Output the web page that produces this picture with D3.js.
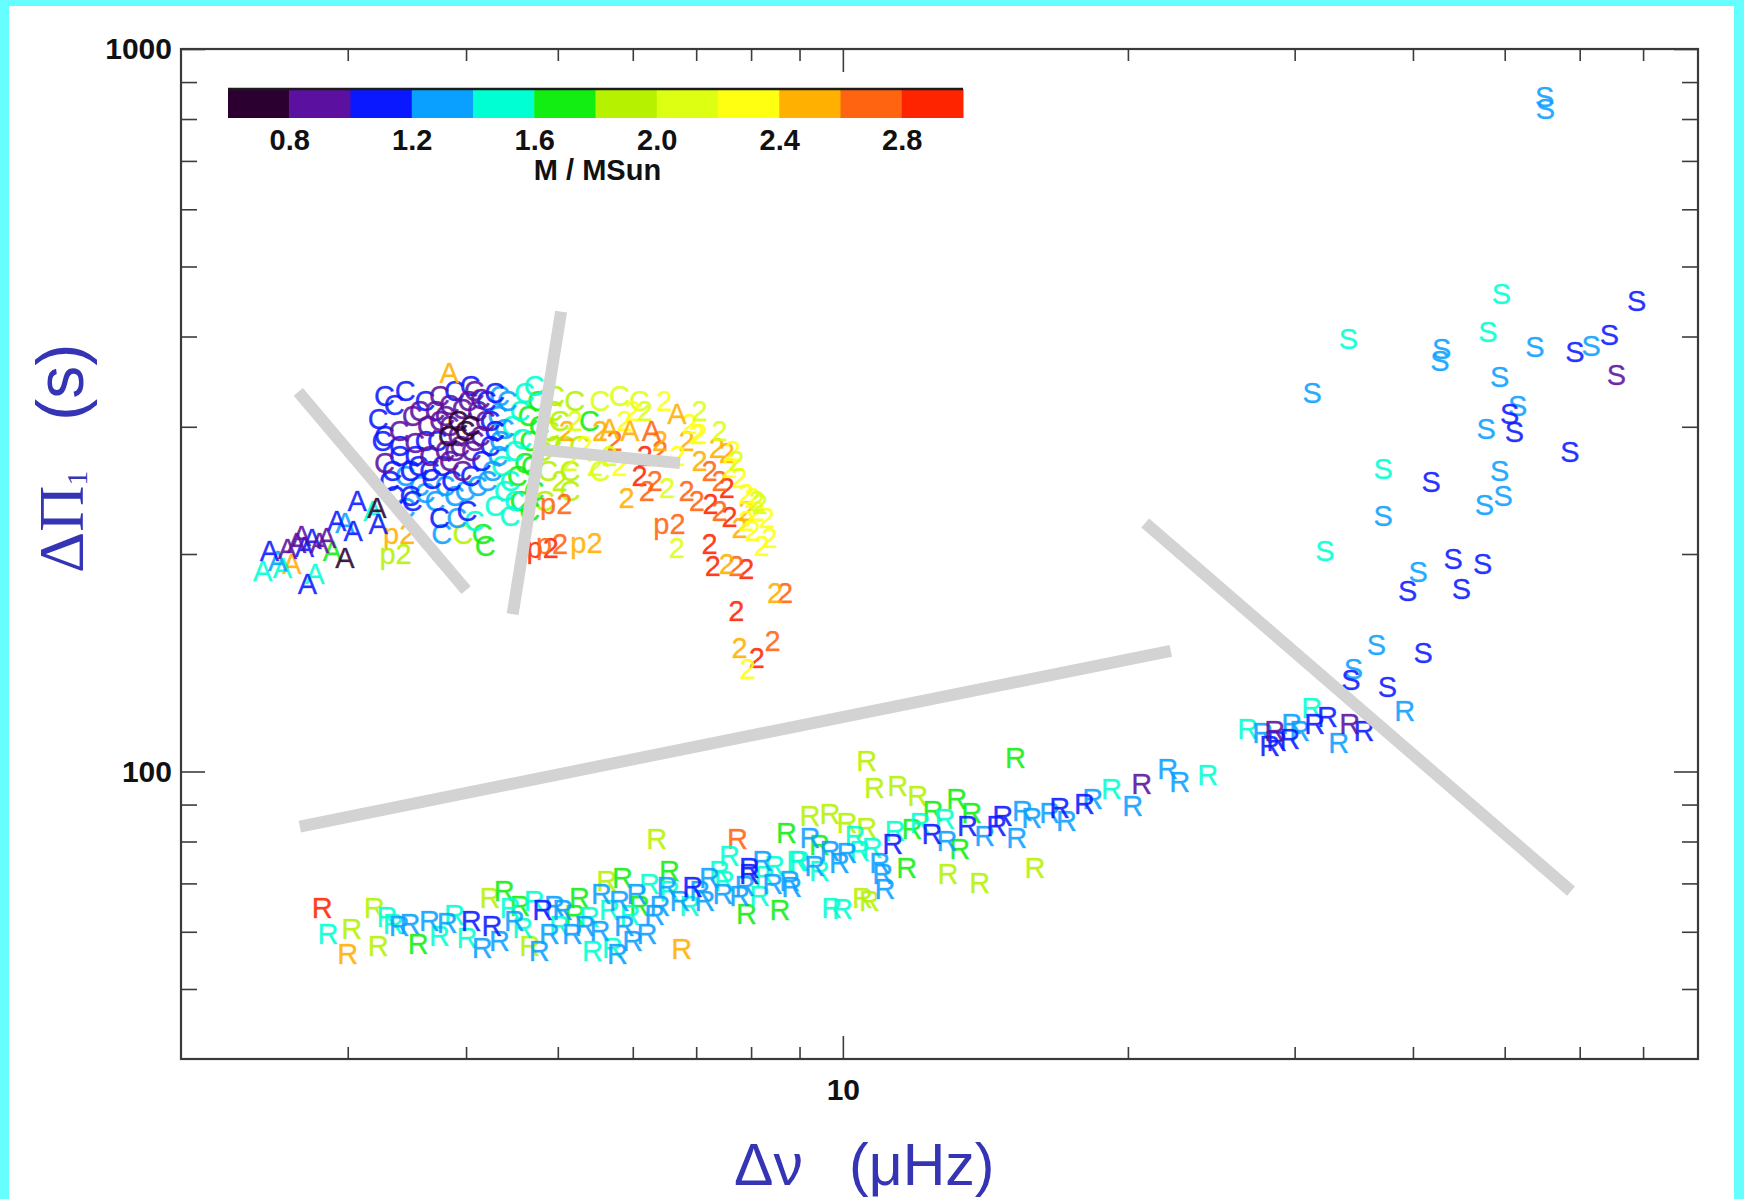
<!DOCTYPE html>
<html>
<head>
<meta charset="utf-8">
<script src="https://cdn.jsdelivr.net/npm/d3@7"></script>
<style>
  html, body { margin: 0; padding: 0; background: #66ffff; }
  svg { display: block; }
</style>
</head>
<body>
<svg id="chart" width="1744" height="1199"></svg>
<script>
// Period spacing ΔΠ1 against large separation Δν; each star drawn as a letter
// coloured by its mass.  Entries are [Δν (μHz), ΔΠ1 (s), M / MSun].

// Mass colour table (12 bins of 0.2 MSun between 0.6 and 3.0)
const massDomain = [0.6, 3.0];
const massBinColors = ["#2b0030", "#5b10a0", "#0a18ff", "#0aa0ff", "#00ffd2", "#12ee12",
                       "#b6f200", "#dcff12", "#ffff12", "#ffb000", "#ff6410", "#ff2400"];
const massTicks = [0.8, 1.2, 1.6, 2.0, 2.4, 2.8];

// Axis ticks
const xMinorTicks = [3, 4, 5, 6, 7, 8, 9, 20, 30, 40, 50, 60, 70];
const xLabelTicks = [10];
const yMinorTicks = [50, 60, 70, 80, 90, 200, 300, 400, 500, 600, 700, 800, 900];
const yLabelTicks = [100, 1000];

// Red-giant-branch stars ("R")
const rStars = [
  [2.82,64.9,2.9],[2.86,59.7,1.5],[3.03,60.7,1.9],[3.00,56.0,2.5],[3.20,64.9,1.9],[3.23,57.5,1.9],[3.30,62.9,1.5],[3.35,61.6,1.5],[3.40,61.2,1.3],[3.49,61.6,1.3],
  [3.56,57.8,1.7],[3.66,62.2,1.3],[3.82,61.8,1.3],[4.05,62.2,1.1],[4.26,61.2,1.1],[4.01,58.9,1.5],[4.16,57.1,1.3],[4.24,67.0,1.9],[4.39,68.5,1.7],[4.45,64.9,1.5],
  [4.59,60.9,1.5],[4.67,57.5,1.9],[4.82,64.3,1.1],[4.78,56.6,1.3],[4.90,59.7,1.3],[5.06,64.3,1.3],[5.18,59.7,1.3],[5.40,62.9,1.5],[5.44,56.6,1.5],[5.71,57.1,1.5],
  [5.78,56.0,1.3],[6.00,58.4,1.3],[6.21,59.7,1.3],[5.27,67.0,1.7],[5.56,67.8,1.3],[5.63,70.7,1.9],[5.85,71.4,1.7],[5.81,66.3,1.3],[6.06,67.8,1.3],[6.25,70.0,1.5],
  [6.36,80.8,1.9],[7.74,80.8,2.7],[8.72,82.4,1.7],[6.52,69.2,1.3],[6.94,69.2,1.1],[6.73,66.3,1.3],[7.23,71.4,1.3],[7.41,73.0,1.5],[7.47,67.8,1.3],[7.97,72.3,1.1],
  [8.23,75.4,1.3],[8.43,70.0,1.3],[7.91,63.6,1.7],[8.58,64.3,1.7],[6.76,56.9,2.5],[5.02,61.2,1.5],[5.54,60.3,1.3],[5.96,63.3,1.5],[6.41,65.3,1.3],[6.89,65.3,1.5],
  [7.06,68.5,1.3],[7.78,67.4,1.3],[8.17,67.4,1.5],[8.79,70.7,1.3],[6.10,65.3,1.7],[5.21,63.3,1.7],[4.56,65.3,1.7],[3.89,63.3,1.5],[3.75,59.3,1.5],[4.34,58.4,1.3],
  [6.56,73.0,1.7],[7.59,76.6,1.5],[8.47,74.2,1.5],[10.6,103.7,1.9],[10.8,95.1,1.9],[11.43,95.6,1.9],[12.0,92.7,1.9],[9.23,87.0,1.9],[9.69,87.5,1.9],[10.1,85.0,1.9],
  [10.6,83.7,1.9],[12.45,88.4,1.7],[13.19,91.8,1.7],[13.68,87.8,1.7],[11.83,83.4,1.7],[11.29,79.6,1.1],[12.42,82.1,1.1],[13.54,84.3,1.1],[14.54,84.3,1.1],[14.75,87.0,1.1],
  [15.48,88.4,1.3],[15.83,86.4,1.3],[15.26,81.1,1.3],[16.94,89.2,1.1],[18.0,90.4,1.1],[17.23,85.6,1.3],[18.36,91.8,1.3],[19.22,94.8,1.5],[20.23,89.8,1.3],[20.68,96.3,0.9],
  [22.03,101.0,1.3],[22.68,96.7,1.3],[24.28,98.9,1.5],[9.23,81.1,1.3],[9.69,77.8,1.3],[10.1,77.3,1.3],[8.94,75.4,1.5],[10.74,78.5,1.5],[10.94,74.7,1.3],[11.02,72.3,1.3],
  [8.83,69.2,1.3],[11.68,73.7,1.7],[12.91,72.3,1.9],[13.95,70.3,1.9],[15.95,73.7,1.9],[9.73,64.9,1.5],[9.99,64.7,1.5],[10.49,67.0,1.9],[10.67,66.3,1.9],[11.08,68.9,1.3],
  [12.88,80.3,1.3],[13.29,78.3,1.7],[15.22,104.7,1.7],[7.97,73.7,1.1],[9.45,79.1,1.7],[10.3,81.6,1.5],[9.34,74.2,1.3],[26.77,114.8,1.5],[27.76,113.2,1.3],[28.58,114.1,0.9],
  [28.72,110.5,1.1],[29.79,116.6,1.3],[29.65,111.2,1.1],[31.27,122.5,1.5],[31.5,116.6,1.1],[32.5,119.2,1.1],[33.4,109.8,1.3],[34.3,116.6,0.9],[35.5,114.1,1.1],[39.2,121.6,1.3],
  [28.24,108.7,1.1],[30.38,114.1,1.3],
  [4.50,62.2,1.3],[4.72,66.3,1.5],[4.96,65.3,1.3],[5.34,61.2,1.3],[5.67,64.3,1.5],[5.88,61.2,1.3],[6.33,63.3,1.3],[6.56,68.5,1.5],[7.15,66.3,1.3],[7.50,70.7,1.5],
  [7.88,69.6,1.3],[8.27,71.8,1.5],[9.00,75.4,1.5],[9.45,73.0,1.5],[9.92,74.9,1.3],[10.42,77.8,1.5],[11.35,82.9,1.5],[12.06,85.0,1.5],[12.82,86.0,1.5],[14.12,81.6,1.3],
  [16.54,87.8,1.3]
];

// Subgiants ("S")
const sStars = [
  [49.6,459,1.5],[68.9,449,1.1],[34.2,397,1.5],[42.9,385,1.3],[42.7,371,1.3],[48.0,406,1.5],[53.8,387,1.3],[59.3,381,1.1],[61.7,389,1.3],[64.5,402,1.1],
  [65.6,354,0.9],[31.3,335,1.3],[49.4,352,1.3],[51.6,321,1.3],[50.6,313,1.1],[51.2,295,1.1],[47.8,298,1.3],[58.6,277,1.1],[37.2,263,1.5],[41.8,252,1.1],
  [49.4,261,1.3],[49.8,241,1.3],[47.6,234,1.3],[37.2,226,1.3],[32.3,202,1.5],[44.1,197,1.1],[47.4,194,1.1],[45.0,179,1.1],[40.5,189,1.3],[39.5,178,1.1],
  [36.6,150,1.3],[41.0,146,1.1],[34.6,139,1.3],[34.4,134,1.1],[37.6,131,1.1],[55.1,858,1.3],[55.2,828,1.3]
];

// Red clump ("C")
const cStars = [
  [3.23,308.4,1.1],[3.26,287.5,1.1],[3.28,268.0,0.9],[3.32,253.1,1.1],[3.36,321.5,1.1],[3.40,296.8,0.9],[3.40,274.1,1.1],[3.45,257.2,1.3],[3.49,241.2,1.1],[3.51,311.4,0.9],
  [3.53,285.7,0.9],[3.56,265.5,1.1],[3.57,249.1,1.3],[3.62,326.6,1.1],[3.64,301.6,0.9],[3.66,274.1,0.9],[3.68,254.7,1.1],[3.71,237.4,1.3],[3.75,331.9,0.9],[3.80,311.4,0.9],
  [3.83,292.1,0.7],[3.84,269.7,0.9],[3.89,337.2,1.1],[3.92,306.4,0.7],[3.94,283.0,0.9],[3.96,261.3,0.9],[4.02,326.6,0.9],[4.04,301.6,0.7],[4.05,278.5,0.9],[4.08,337.2,0.9],
  [4.11,316.4,0.9],[4.14,292.1,0.9],[4.15,269.7,1.1],[4.20,326.6,1.1],[4.24,306.4,1.1],[4.24,283.0,1.1],[4.26,261.3,1.3],[4.29,335.0,1.1],[3.73,287.5,1.1],[3.77,265.5,1.1],
  [3.80,249.1,1.3],[3.86,253.1,1.1],[3.99,245.1,1.3],[4.11,249.1,1.3],[3.45,232.2,1.3],[3.51,237.4,1.1],[3.75,224.9,1.1],[3.77,213.8,1.3],[3.91,224.9,1.3],[3.97,213.8,1.9],
  [4.01,230.0,1.1],[4.16,213.8,1.7],[4.19,205.7,1.7],[4.08,222.8,1.5],[4.29,233.7,1.5],[4.32,311.4,1.3],[4.34,287.5,1.3],[4.36,265.5,1.5],[4.39,245.1,1.5],[4.42,326.6,1.3],
  [4.47,301.6,1.5],[4.50,278.5,1.5],[4.53,257.2,1.7],[4.56,237.4,1.7],[4.61,335.0,1.5],[4.65,311.4,1.7],[4.67,287.5,1.7],[4.69,265.5,1.7],[4.72,245.1,1.7],[4.76,326.6,1.7],
  [4.78,301.6,1.7],[4.81,278.5,1.9],[4.72,342.6,1.5],[5.40,306.4,1.7],[4.96,331.9,1.9],[5.02,306.4,1.9],[5.08,283.0,1.9],[5.15,261.3,1.9],[5.21,326.6,1.9],[5.27,283.0,1.9],
  [5.54,326.6,2.1],[5.15,245.1,1.9],[5.54,261.3,2.1],[5.81,331.9,2.1],[6.10,326.6,2.1],[3.84,321.5,0.9],[3.99,296.8,0.7],[3.89,278.5,0.9],[3.75,306.4,0.9],[3.62,287.5,1.1],
  [4.19,306.4,0.9],[4.04,342.6,1.1],[4.34,331.9,1.3],[3.49,261.3,1.1],[3.36,241.2,1.1],[3.28,292.1,1.1],[4.50,237.4,1.5],[4.45,226.3,1.5],
  [3.28,331.9,1.1],[3.45,337.2,1.1],[3.57,316.4,0.9],[3.71,316.4,0.9],[3.84,301.6,0.9],[3.96,318.4,0.9],[4.08,287.5,0.9],[3.92,292.1,0.9],[3.80,278.5,0.9],[3.66,261.3,1.1],
  [3.53,274.1,1.1],[3.40,283.0,1.1],[3.34,261.3,1.1],[3.62,243.6,1.3],[3.89,241.2,1.3],[4.04,257.2,1.1],[4.21,253.1,1.3],[4.32,274.1,1.3],[4.39,298.7,1.3],[4.56,316.4,1.5],
  [4.58,289.3,1.5],[4.61,268.0,1.7],[4.45,253.1,1.5],[4.67,230.0,1.7],[4.88,261.3,1.9],[4.84,237.4,1.9],[4.90,296.8,1.9],[4.94,316.4,1.9],[4.29,296.8,1.1],[4.14,328.7,0.9]
];

// AGB stars ("A")
const aStars = [
  [2.48,202.4,1.1],[2.44,189.9,1.5],[2.53,196.1,1.3],[2.56,191.8,1.5],[2.62,194.2,2.5],[2.65,207.7,0.9],[2.70,204.5,1.1],[2.72,182.2,1.1],[2.77,188.1,1.5],[2.80,207.7,0.9],
  [2.85,211.0,0.9],[2.89,202.4,1.7],[2.98,198.0,0.7],[2.92,222.8,1.1],[2.98,221.3,1.3],[3.04,215.8,1.1],[3.07,237.4,1.1],[3.23,220.6,1.1],[3.19,230.0,1.5],[3.22,232.2,0.7],
  [3.84,357.1,2.5],[5.67,298.7,2.5],[5.96,296.8,2.5],[6.28,296.8,2.7],[6.68,313.3,2.5],[2.59,203.7,0.9],[2.75,210.3,1.1],[2.68,212.4,0.9]
];

// Secondary clump ("2")
const secondClumpStars = [
  [5.11,296.8,2.5],[6.00,316.4,2.3],[6.84,287.5,2.5],[7.06,294.0,2.3],[7.36,281.2,2.5],[7.54,275.9,2.5],[7.59,263.8,2.3],[7.23,261.3,2.7],[6.84,245.1,2.7],[7.01,237.4,2.7],
  [6.21,245.1,2.7],[6.52,247.5,2.1],[5.91,239.7,2.5],[6.68,204.4,2.1],[7.25,235.2,2.9],[7.41,230.0,2.7],[7.59,225.0,2.9],[7.78,217.9,2.5],[7.91,222.8,2.3],[8.03,215.8,2.3],
  [8.11,230.0,2.3],[7.91,230.0,2.5],[7.65,278.5,2.3],[7.72,269.7,2.1],[8.03,239.7,2.3],[8.17,235.2,2.1],[8.31,224.9,2.3],[7.23,207.0,2.9],[7.29,193.0,2.9],[7.54,194.2,2.5],
  [7.72,193.0,2.7],[7.91,191.1,2.9],[8.21,205.7,2.3],[8.37,211.0,2.3],[8.48,177.1,2.5],[8.69,177.1,2.7],[7.72,167.2,2.9],[7.78,148.6,2.5],[8.11,143.9,2.9],[8.43,151.9,2.7],
  [7.93,139.0,2.3],[6.89,303.5,2.3],[7.01,294.0,2.3],[7.78,255.5,2.3],[7.41,253.1,2.7],[7.54,247.5,2.9],[7.91,242.6,2.3],[8.11,237.4,2.1],[6.41,278.5,2.7],[6.18,274.1,2.9],
  [6.10,257.2,2.9],[6.33,253.1,2.7],[5.54,296.8,2.5],[5.34,283.0,2.3],[5.74,287.5,2.7],[6.41,287.5,2.5],[6.69,274.1,2.3],[7.06,269.7,2.5],[5.15,269.7,2.1],[5.81,265.5,2.3],
  [4.96,283.0,1.9],[5.21,306.4,2.1],[5.47,265.5,2.1],[5.02,253.1,1.9],[5.67,274.1,2.1],[5.88,306.4,2.3],[6.18,316.4,2.1],[6.48,326.6,2.3],[7.06,316.4,2.1],[7.41,296.8,2.1]
];

// Pre-secondary-clump stars ("p2")
const p2Stars = [
  [3.40,213.8,2.5],[3.37,200.5,1.9],[4.98,235.2,2.7],[4.82,204.4,2.9],[4.93,207.0,2.7],[5.36,207.7,2.5],[6.56,220.6,2.7]
];

// Grey separators between the evolutionary groups, [Δν, ΔΠ1] end points
const separators = [
  [[2.66, 335.4], [4.00, 178.2]],
  [[5.04, 433.0], [4.48, 165.1]],
  [[4.84, 278.5], [6.73, 267.2]],
  [[2.67, 83.9], [22.2, 146.9]],
  [[20.86, 220.8], [58.75, 68.3]]
];

// ------------------------------------------------------------------
const plot = { left: 181, top: 49, right: 1698, bottom: 1059 };
const svg = d3.select("#chart");
const sans = "'Liberation Sans', Arial, Helvetica, sans-serif";
const serif = "'Liberation Serif', 'Times New Roman', serif";
const titleBlue = "#3434b4";

// white sheet inside the cyan border
svg.append("rect").attr("x", 9).attr("y", 6).attr("width", 1725).attr("height", 1193).attr("fill", "#ffffff");

const x = d3.scaleLog().domain([2, 80]).range([plot.left, plot.right]);
const y = d3.scaleLog().domain([40, 1000]).range([plot.bottom, plot.top]);
const massColor = d3.scaleQuantize().domain(massDomain).range(massBinColors);

// ---- markers
function drawLetters(points, glyph) {
  const ordered = points.slice().sort((a, b) => b[2] - a[2]);
  svg.append("g")
    .selectAll("text")
    .data(ordered)
    .join("text")
    .attr("x", d => x(d[0]))
    .attr("y", d => y(d[1]))
    .attr("dy", "0.36em")
    .attr("text-anchor", "middle")
    .attr("font-family", sans)
    .attr("font-size", 29)
    .attr("fill", d => massColor(d[2]))
    .attr("stroke", d => massColor(d[2]))
    .attr("stroke-width", 0.5)
    .attr("fill-opacity", 0.88)
    .attr("stroke-opacity", 0.6)
    .text(glyph);
}
drawLetters(rStars, "R");
drawLetters(sStars, "S");
drawLetters(cStars, "C");
drawLetters(secondClumpStars, "2");
drawLetters(p2Stars, "p2");
drawLetters(aStars, "A");

// ---- separators
svg.append("g")
  .selectAll("line")
  .data(separators)
  .join("line")
  .attr("x1", d => x(d[0][0])).attr("y1", d => y(d[0][1]))
  .attr("x2", d => x(d[1][0])).attr("y2", d => y(d[1][1]))
  .attr("stroke", "#d3d3d3")
  .attr("stroke-width", 12);

// ---- axes (ticks point inward on all four sides)
function styleAxis(g) {
  g.select(".domain").remove();
  g.selectAll(".tick line").attr("stroke", "#3c3c3c").attr("stroke-width", 1.6);
  g.selectAll(".tick text")
    .attr("font-family", sans).attr("font-weight", "bold")
    .attr("font-size", 30).attr("fill", "#111");
}
function addAxis(axisFn, scale, values, size, transform, format, padding) {
  const axis = axisFn(scale).tickValues(values).tickSize(-size)
    .tickPadding(padding || 0).tickFormat(format || (() => ""));
  svg.append("g").attr("transform", transform).call(axis).call(styleAxis);
}
const plain = d3.format("d");
addAxis(d3.axisBottom, x, xMinorTicks, 12, `translate(0,${plot.bottom})`);
addAxis(d3.axisBottom, x, xLabelTicks, 23, `translate(0,${plot.bottom})`, plain, 20);
addAxis(d3.axisTop, x, xMinorTicks, 12, `translate(0,${plot.top})`);
addAxis(d3.axisTop, x, xLabelTicks, 23, `translate(0,${plot.top})`);
addAxis(d3.axisLeft, y, yMinorTicks, 16, `translate(${plot.left},0)`);
addAxis(d3.axisLeft, y, yLabelTicks, 24, `translate(${plot.left},0)`, plain, 9);
addAxis(d3.axisRight, y, yMinorTicks, 16, `translate(${plot.right},0)`);
addAxis(d3.axisRight, y, yLabelTicks, 24, `translate(${plot.right},0)`);

svg.append("rect")
  .attr("x", plot.left).attr("y", plot.top)
  .attr("width", plot.right - plot.left).attr("height", plot.bottom - plot.top)
  .attr("fill", "none").attr("stroke", "#3a3a3a").attr("stroke-width", 2.2);

// ---- mass colour bar
const cbar = { left: 228, right: 963, top: 89, height: 29 };
const cb = d3.scaleLinear().domain(massDomain).range([cbar.left, cbar.right]);
svg.append("g")
  .selectAll("rect")
  .data(massBinColors)
  .join("rect")
  .attr("x", c => cb(massColor.invertExtent(c)[0]))
  .attr("width", c => cb(massColor.invertExtent(c)[1]) - cb(massColor.invertExtent(c)[0]) + 0.5)
  .attr("y", cbar.top).attr("height", cbar.height)
  .attr("fill", c => c);
svg.append("line")
  .attr("x1", cb(massDomain[0])).attr("x2", cb(massDomain[1]))
  .attr("y1", cbar.top).attr("y2", cbar.top)
  .attr("stroke", "#1c1c1c").attr("stroke-width", 2.5);
svg.append("g")
  .attr("transform", `translate(0,${cbar.top + cbar.height})`)
  .call(d3.axisBottom(cb).tickValues(massTicks).tickSize(0).tickPadding(11).tickFormat(d3.format(".1f")))
  .call(g => {
    g.select(".domain").remove();
    g.selectAll(".tick text").attr("font-family", sans).attr("font-weight", "bold")
      .attr("font-size", 29).attr("fill", "#111");
  });
svg.append("text")
  .attr("x", (cbar.left + cbar.right) / 2 + 2).attr("y", 180)
  .attr("text-anchor", "middle")
  .attr("font-family", sans).attr("font-weight", "bold").attr("font-size", 29).attr("fill", "#111")
  .text("M / MSun");

// ---- axis titles
const xTitle = svg.append("text")
  .attr("x", 734).attr("y", 1185)
  .attr("font-family", sans).attr("font-size", 59).attr("fill", titleBlue);
xTitle.append("tspan").text("Δν");
xTitle.append("tspan").attr("x", 849).text("(μHz)");

const yTitle = svg.append("text")
  .attr("transform", "translate(83,573) rotate(-90)")
  .attr("fill", titleBlue);
yTitle.append("tspan").attr("font-family", serif).attr("font-size", 64).text("ΔΠ");
yTitle.append("tspan").attr("font-family", serif).attr("font-size", 30).attr("dy", 4).text("1");
yTitle.append("tspan").attr("font-family", sans).attr("font-size", 66).attr("dx", 50).attr("dy", -4).text("(s)");
</script>
</body>
</html>
